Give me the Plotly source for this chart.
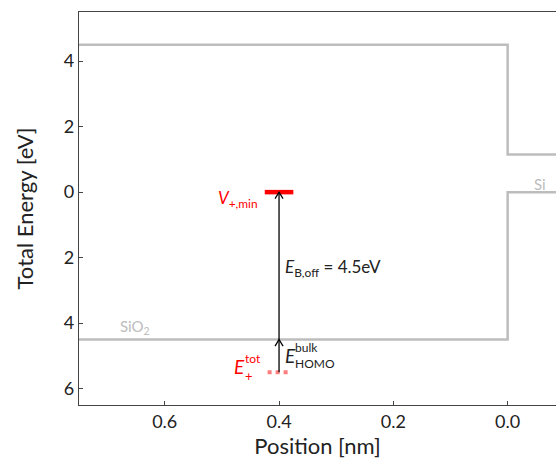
import plotly.graph_objects as go

# Band edges across the SiO2 / Si interface (position in nm, energy in eV)
band_x = [-0.75, 0.0, 0.0, 0.12]
cbm = [4.5, 4.5, 1.15, 1.15]
vbm = [-4.5, -4.5, 0.0, 0.0]

# Defect levels near x = -0.4 nm
defect_x = -0.4
defect_half_width = 0.025
v_plus_min = 0.0
e_homo_bulk = -4.5
e_plus_tot = -5.5
band_offset = v_plus_min - e_homo_bulk

x_ticks = [-0.6, -0.4, -0.2, 0.0]
x_tick_text = ["0.6", "0.4", "0.2", "0.0"]
y_ticks = [4, 2, 0, -2, -4, -6]
y_tick_text = ["4", "2", "0", "2", "4", "6"]

FONT = "Lato"
GRAY = "#bdbdbd"
RED = "#ff0000"
INK = "#222"

fig = go.Figure()

fig.add_trace(go.Scatter(x=band_x, y=cbm, mode="lines",
                         line=dict(color=GRAY, width=2.5), hoverinfo="skip"))
fig.add_trace(go.Scatter(x=band_x, y=vbm, mode="lines",
                         line=dict(color=GRAY, width=2.5), hoverinfo="skip"))

# V+,min level
fig.add_trace(go.Scatter(x=[defect_x - defect_half_width, defect_x + defect_half_width],
                         y=[v_plus_min, v_plus_min], mode="lines",
                         line=dict(color=RED, width=4.5), hoverinfo="skip"))
# E+ total level
fig.add_trace(go.Scatter(x=[defect_x - 0.02, defect_x + 0.02],
                         y=[e_plus_tot, e_plus_tot], mode="lines",
                         line=dict(color="rgba(255,0,0,0.5)", width=4, dash="dot"),
                         hoverinfo="skip"))

# Arrows with open heads
def arrow(x, y0, y1):
    fig.add_shape(type="line", x0=x, x1=x, y0=y0, y1=y1,
                  line=dict(color="black", width=1.3))
    dx, dy = 0.007, 0.2
    fig.add_shape(type="path",
                  path=f"M {x - dx} {y1 - dy} L {x} {y1} L {x + dx} {y1 - dy}",
                  line=dict(color="black", width=1.3))

arrow(defect_x, e_homo_bulk, v_plus_min)
arrow(defect_x, e_plus_tot, e_homo_bulk)


def label(x, y, text, color, size, xanchor="left"):
    fig.add_annotation(x=x, y=y, text=text, showarrow=False,
                       xanchor=xanchor, yanchor="middle", borderpad=0,
                       font=dict(family=FONT, color=color, size=size))


label(-0.435, -0.2, "<i>V</i><sub>+,min</sub>", RED, 17, "right")
label(-0.392, -2.33, f"<i>E</i><sub>B,off</sub> = {band_offset:.1f}eV", INK, 17)

# E^bulk_HOMO with stacked scripts
label(-0.392, -5.0, "<i>E</i>", INK, 19)
label(-0.373, -4.74, "bulk", INK, 12)
label(-0.373, -5.24, "HOMO", INK, 12)

# E^tot_+ with stacked scripts
label(-0.48, -5.33, "<i>E</i>", RED, 19)
label(-0.461, -5.08, "tot", RED, 12)
label(-0.461, -5.6, "+", RED, 13)

label(-0.68, -4.12, "SiO<sub>2</sub>", GRAY, 15)
label(0.044, 0.26, "Si", GRAY, 15)

fig.update_layout(
    width=556, height=463,
    margin=dict(l=79, r=0, t=12, b=58),
    paper_bgcolor="white", plot_bgcolor="white",
    showlegend=False,
    font=dict(family=FONT, color=INK),
)
fig.update_xaxes(
    range=[-0.75, 0.0846], tickvals=x_ticks, ticktext=x_tick_text,
    ticks="inside", ticklen=4, tickcolor="#444", tickwidth=1,
    showline=True, linecolor="#444", linewidth=1.2, mirror=True,
    showgrid=False, zeroline=False,
    tickfont=dict(family=FONT, size=18, color=INK),
    title=dict(text="Position [nm]", font=dict(family=FONT, size=22, color=INK), standoff=4),
)
fig.update_yaxes(
    range=[-6.5, 5.5], tickvals=y_ticks, ticktext=y_tick_text,
    ticks="inside", ticklen=4, tickcolor="#444", tickwidth=1,
    showline=True, linecolor="#444", linewidth=1.2, mirror=False,
    showgrid=False, zeroline=False,
    tickfont=dict(family=FONT, size=18, color=INK),
    title=dict(text="Total Energy [eV]", font=dict(family=FONT, size=22, color=INK), standoff=24),
)

fig.write_html("out.html")
